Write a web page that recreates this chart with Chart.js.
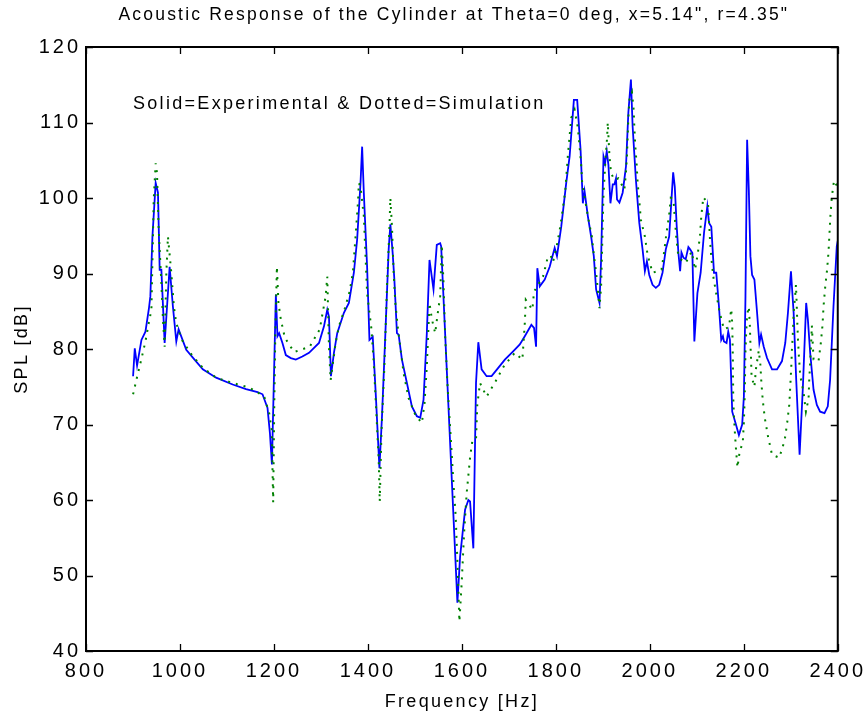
<!DOCTYPE html>
<html>
<head>
<meta charset="utf-8">
<script src="https://cdn.jsdelivr.net/npm/chart.js@4.4.1/dist/chart.umd.min.js"></script>
<style>
  html, body { margin: 0; padding: 0; background: #fff; }
  #grafico { display: block; }
</style>
</head>
<body>
<canvas id="grafico" width="868" height="716"></canvas>
<script>
// experimental (solid blue)
const freqExp = [900.2, 903.8, 908.7, 918.0, 926.5, 934.0, 937.0, 941.4, 948.3, 953.2, 956.8, 960.4, 967.4, 978.0, 985.0, 992.2, 997.1,
  1013.4, 1031.0, 1048.6, 1077.0, 1112.2, 1140.6, 1165.1, 1175.7, 1186.3, 1191.4, 1195.7, 1204.1, 1207.5, 1211.1, 1218.1, 1225.3,
  1235.9, 1246.5, 1260.5, 1274.7, 1295.9, 1306.5, 1313.5, 1317.1, 1321.3, 1327.7, 1334.7, 1348.9, 1359.5, 1370.1, 1377.1, 1384.3,
  1387.7, 1391.3, 1398.3, 1403.3, 1410.3, 1417.3, 1424.5, 1430.0, 1437.2, 1444.2, 1447.8, 1452.7, 1456.3, 1461.8, 1465.4, 1472.4,
  1483.0, 1493.6, 1504.2, 1511.4, 1518.4, 1525.4, 1531.1, 1539.6, 1546.6, 1553.8, 1555.9, 1590.5, 1596.2, 1606.8, 1613.8, 1617.4,
  1624.4, 1630.1, 1635.0, 1642.0, 1652.6, 1663.2, 1677.4, 1691.5, 1709.1, 1723.3, 1733.9, 1747.9, 1753.6, 1757.9, 1760.6, 1765.7,
  1776.3, 1786.9, 1797.5, 1802.4, 1811.5, 1822.1, 1829.3, 1838.4, 1845.4, 1852.6, 1857.5, 1861.1, 1868.1, 1875.1, 1880.8, 1885.7,
  1892.9, 1896.3, 1901.4, 1904.8, 1908.3, 1911.9, 1916.2, 1921.1, 1924.6, 1928.0, 1930.2, 1935.3, 1942.2, 1949.3, 1954.3, 1959.8,
  1963.4, 1970.4, 1977.6, 1984.6, 1989.5, 1993.8, 1998.8, 2005.8, 2012.8, 2020.0, 2027.0, 2034.0, 2041.2, 2046.1, 2049.7, 2053.1,
  2057.3, 2060.9, 2064.5, 2067.3, 2071.5, 2076.4, 2082.1, 2085.7, 2090.6, 2094.8, 2101.3, 2108.2, 2115.4, 2122.4, 2126.0, 2130.9,
  2136.6, 2141.4, 2147.2, 2152.0, 2155.6, 2157.8, 2163.3, 2166.9, 2170.5, 2175.4, 2182.4, 2189.6, 2196.6, 2200.2, 2203.6, 2207.1,
  2210.7, 2214.1, 2217.7, 2222.6, 2228.3, 2233.2, 2236.8, 2242.5, 2249.5, 2260.1, 2270.7, 2281.3, 2288.3, 2294.0, 2300.4, 2306.1,
  2311.6, 2318.8, 2325.8, 2332.8, 2336.4, 2341.3, 2348.5, 2355.5, 2362.5, 2371.8, 2378.8, 2383.7, 2390.9, 2397.9, 2400.0];
const splExp = [76.4, 80.1, 77.8, 81.2, 82.3, 85.4, 87.0, 94.9, 102.0, 100.7, 90.5, 90.5, 80.8, 90.9, 85.6, 81.0, 82.6,
  79.9, 78.6, 77.3, 76.2, 75.3, 74.7, 74.3, 74.0, 72.2, 68.9, 64.7, 87.2, 81.7, 82.1, 80.8, 79.2,
  78.8, 78.6, 79.0, 79.5, 80.8, 83.0, 85.2, 84.3, 76.4, 79.5, 82.1, 84.8, 86.1, 90.1, 94.5, 102.0,
  106.8, 100.7, 90.9, 81.2, 81.6, 73.3, 64.2, 71.1, 82.1, 93.2, 96.5, 92.7, 89.2, 82.1, 81.9, 78.6,
  75.5, 72.4, 71.1, 70.9, 73.3, 82.1, 91.8, 87.9, 93.8, 94.0, 93.6, 46.4, 52.5, 58.7, 60.0, 59.8,
  53.6, 75.5, 80.9, 77.3, 76.4, 76.4, 77.5, 78.6, 79.7, 80.6, 81.7, 83.2, 82.8, 80.3, 90.7, 88.3,
  89.2, 90.9, 93.4, 92.3, 96.2, 102.0, 105.5, 113.0, 113.0, 106.4, 99.3, 100.9, 97.6, 94.9, 92.3, 87.9,
  86.1, 91.8, 105.5, 104.6, 106.2, 104.4, 99.3, 101.8, 101.8, 102.6, 99.8, 99.4, 100.7, 104.2, 111.3, 115.7,
  109.5, 102.4, 96.7, 93.2, 90.3, 91.6, 89.8, 88.5, 88.1, 88.5, 90.1, 93.2, 94.9, 99.8, 103.4, 101.5,
  96.2, 92.7, 90.3, 92.8, 92.1, 91.9, 93.5, 93.2, 92.7, 81.0, 87.4, 90.1, 95.4, 98.9, 96.7, 96.2,
  90.1, 90.1, 85.6, 81.2, 81.7, 81.0, 80.8, 82.3, 81.2, 71.7, 70.2, 68.6, 70.0, 73.7, 87.0, 107.7,
  101.1, 92.3, 89.8, 89.2, 84.8, 80.8, 81.9, 80.3, 78.8, 77.3, 77.3, 78.4, 80.8, 84.8, 90.3, 84.8,
  75.9, 66.0, 75.0, 86.1, 83.9, 79.5, 74.6, 72.6, 71.7, 71.5, 72.4, 75.9, 85.6, 93.6, 94.3];

// simulation (dotted green)
const freqSim = [900.2, 908.7, 918.0, 926.5, 933.5, 939.2, 944.1, 948.3, 951.1, 954.7, 960.4, 963.8, 967.4, 971.0, 974.4, 981.6,
  987.1, 992.2, 1004.1, 1025.3, 1048.6, 1077.0, 1112.2, 1147.5, 1179.3, 1189.9, 1195.7, 1196.9, 1198.4, 1200.5, 1202.7, 1206.3,
  1209.6, 1214.7, 1223.2, 1242.9, 1276.2, 1297.4, 1310.1, 1313.5, 1317.1, 1320.7, 1331.3, 1338.3, 1351.0, 1361.0, 1368.0, 1373.7,
  1379.2, 1380.7, 1384.3, 1391.3, 1398.3, 1407.6, 1412.5, 1417.3, 1423.0, 1425.2, 1428.8, 1435.1, 1440.6, 1445.7, 1447.8, 1451.2,
  1454.8, 1458.4, 1464.0, 1476.0, 1486.6, 1500.8, 1514.8, 1520.5, 1525.4, 1531.1, 1536.0, 1543.2, 1548.1, 1553.8, 1557.2, 1560.8,
  1564.4, 1569.9, 1577.1, 1582.0, 1586.9, 1591.1, 1594.7, 1599.6, 1604.7, 1610.2, 1617.4, 1622.2, 1630.1, 1632.8, 1638.6, 1652.6,
  1671.6, 1690.1, 1712.7, 1728.8, 1733.9, 1736.0, 1750.0, 1753.6, 1772.7, 1781.8, 1789.0, 1793.9, 1802.4, 1809.4, 1815.1, 1820.0,
  1825.7, 1832.7, 1839.9, 1846.9, 1850.5, 1853.9, 1856.0, 1869.6, 1876.6, 1880.8, 1885.7, 1889.3, 1892.9, 1896.3, 1898.4, 1901.4,
  1905.6, 1909.0, 1910.5, 1914.1, 1917.5, 1924.6, 1933.1, 1945.8, 1949.2, 1951.4, 1952.9, 1954.3, 1956.5, 1962.0, 1965.6, 1967.1,
  1969.2, 1972.0, 1974.1, 1977.6, 1981.0, 1989.5, 1995.2, 2005.8, 2024.9, 2030.6, 2035.5, 2041.2, 2044.6, 2050.3, 2053.1, 2056.1,
  2060.3, 2067.3, 2076.4, 2089.1, 2096.3, 2102.7, 2106.9, 2109.7, 2113.9, 2123.9, 2128.1, 2130.9, 2135.1, 2141.4, 2148.5, 2157.8,
  2168.4, 2173.3, 2175.4, 2176.8, 2177.5, 2178.9, 2181.1, 2183.8, 2186.6, 2190.7, 2197.9, 2200.0, 2201.4, 2202.3, 2202.9, 2203.6,
  2205.1, 2207.2, 2210.8, 2212.9, 2214.1, 2215.6, 2216.5, 2222.6, 2226.2, 2231.9, 2235.3, 2237.4, 2240.4, 2244.6, 2251.6, 2260.1,
  2275.6, 2287.0, 2292.5, 2296.8, 2298.9, 2301.0, 2302.5, 2304.6, 2306.1, 2309.5, 2311.0, 2312.5, 2313.8, 2315.3, 2317.4, 2320.1,
  2327.3, 2332.2, 2337.9, 2339.2, 2341.3, 2343.4, 2344.9, 2348.5, 2359.1, 2364.0, 2367.6, 2369.7, 2373.1, 2377.3, 2380.3, 2382.4,
  2384.5, 2387.3, 2392.1, 2399.3];
const splSim = [74.0, 76.3, 78.7, 81.0, 83.4, 85.2, 99.8, 104.6, 103.3, 95.8, 88.7, 83.9, 80.3, 90.1, 94.9, 90.1,
  85.6, 83.4, 81.2, 79.2, 77.5, 76.2, 75.5, 74.9, 73.7, 71.5, 69.1, 64.2, 59.7, 71.6, 81.2, 90.9,
  86.1, 83.9, 81.5, 79.6, 80.3, 82.6, 87.0, 89.6, 80.3, 75.9, 80.8, 83.0, 85.4, 87.6, 90.1, 94.9,
  99.8, 102.0, 101.5, 97.6, 87.4, 82.6, 78.1, 72.4, 65.3, 59.8, 68.9, 77.7, 88.3, 95.8, 100.0, 96.2,
  90.1, 86.1, 82.6, 76.8, 73.5, 71.3, 70.2, 72.8, 77.7, 86.1, 84.0, 82.1, 84.5, 87.0, 93.8, 89.0,
  81.7, 74.6, 67.5, 62.3, 57.8, 50.8, 43.9, 49.0, 55.6, 60.9, 65.6, 67.8, 68.0, 72.6, 75.5, 73.7,
  75.7, 77.8, 79.5, 78.6, 83.4, 86.5, 85.2, 87.6, 89.6, 91.9, 92.4, 91.5, 93.8, 96.2, 98.7, 100.9,
  105.7, 110.6, 111.7, 109.3, 106.8, 104.4, 102.0, 97.1, 94.9, 92.5, 90.1, 87.9, 85.4, 88.3, 93.2, 100.4,
  105.1, 107.9, 110.0, 105.5, 103.3, 102.4, 102.6, 101.1, 103.3, 105.7, 108.2, 110.6, 113.0, 114.0, 111.7, 109.3,
  106.8, 104.4, 102.0, 99.6, 97.1, 94.9, 92.5, 90.1, 90.5, 92.9, 95.4, 97.8, 100.0, 99.8, 97.4, 94.9,
  92.5, 91.8, 91.4, 92.9, 90.5, 92.9, 95.1, 97.7, 100.1, 99.3, 94.5, 92.1, 89.6, 87.3, 84.9, 82.6,
  82.9, 85.3, 83.4, 78.6, 73.7, 71.3, 68.9, 66.4, 64.3, 66.2, 67.7, 70.1, 72.5, 74.9, 77.4, 79.8,
  82.2, 84.6, 85.6, 83.1, 80.7, 78.4, 76.4, 75.0, 77.5, 79.8, 77.9, 75.6, 73.2, 70.9, 68.4, 66.0,
  65.6, 67.9, 70.3, 72.6, 75.0, 77.5, 79.9, 82.3, 84.8, 87.2, 88.5, 86.1, 83.7, 81.3, 78.9, 76.5,
  74.2, 71.7, 73.4, 75.8, 78.2, 80.8, 83.1, 78.6, 78.4, 80.8, 83.2, 85.6, 88.1, 90.5, 92.8, 95.3,
  97.7, 100.1, 102.3, 101.5];

const freqTicks = [800, 1000, 1200, 1400, 1600, 1800, 2000, 2200, 2400];
const splTicks = [40, 50, 60, 70, 80, 90, 100, 110, 120];

const tituloGrafico = 'Acoustic Response of the Cylinder at Theta=0 deg, x=5.14", r=4.35"';
const textoNota = "Solid=Experimental & Dotted=Simulation";
const tituloX = "Frequency [Hz]";
const tituloY = "SPL [dB]";

const fuente = "'Liberation Sans', Arial, sans-serif";
const canvas_grafico = document.getElementById("grafico");

/* marco, ticks hacia dentro y textos */
const marcoPlugin = {
  id: "marco",
  beforeDraw(chart) {
    // espaciado de letras para las etiquetas de los ejes
    chart.ctx.letterSpacing = "3px";
  },
  afterDraw(chart) {
    const ctx = chart.ctx;
    const a = chart.chartArea;
    const xs = chart.scales.x;
    const ys = chart.scales.y;
    ctx.save();
    ctx.strokeStyle = "#000";
    ctx.lineWidth = 2;
    ctx.strokeRect(a.left, a.top, a.right - a.left, a.bottom - a.top);
    ctx.lineWidth = 1.3;
    ctx.beginPath();
    freqTicks.forEach((v) => {
      const px = Math.round(xs.getPixelForValue(v)) + 0.5;
      ctx.moveTo(px, a.bottom); ctx.lineTo(px, a.bottom - 7);
      ctx.moveTo(px, a.top); ctx.lineTo(px, a.top + 7);
    });
    splTicks.forEach((v) => {
      const py = Math.round(ys.getPixelForValue(v)) + 0.5;
      ctx.moveTo(a.left, py); ctx.lineTo(a.left + 7, py);
      ctx.moveTo(a.right, py); ctx.lineTo(a.right - 7, py);
    });
    ctx.stroke();

    ctx.fillStyle = "#000";
    ctx.textAlign = "center";
    ctx.textBaseline = "middle";
    const cx = (a.left + a.right) / 2;
    ctx.letterSpacing = "2.2px";
    ctx.font = "17.5px " + fuente;
    ctx.fillText(tituloGrafico, cx - 8, 15);
    ctx.letterSpacing = "2.3px";
    ctx.font = "18px " + fuente;
    ctx.fillText(tituloX, cx, 702);
    ctx.save();
    ctx.translate(22, (a.top + a.bottom) / 2);
    ctx.rotate(-Math.PI / 2);
    ctx.fillText(tituloY, 0, 0);
    ctx.restore();
    ctx.textAlign = "left";
    ctx.fillText(textoNota, xs.getPixelForValue(900), ys.getPixelForValue(112.5));
    ctx.restore();
  }
};

const config = {
  type: "line",
  data: {
    datasets: [
      {
        label: "Simulation",
        data: freqSim.map((f, i) => ({ x: f, y: splSim[i] })),
        borderColor: "#008000",
        borderWidth: 2,
        borderDash: [2, 6],
        pointRadius: 0,
        tension: 0,
        fill: false
      },
      {
        label: "Experimental",
        data: freqExp.map((f, i) => ({ x: f, y: splExp[i] })),
        borderColor: "#0000ff",
        borderWidth: 1.8,
        pointRadius: 0,
        tension: 0,
        fill: false
      }
    ]
  },
  options: {
    responsive: false,
    animation: false,
    devicePixelRatio: 1,
    layout: { padding: { top: 47, right: 27, left: 0, bottom: 0 } },
    plugins: { legend: { display: false }, tooltip: { enabled: false } },
    scales: {
      x: {
        type: "linear",
        min: freqTicks[0],
        max: freqTicks[freqTicks.length - 1],
        afterBuildTicks: (s) => { s.ticks = freqTicks.map((v) => ({ value: v })); },
        afterFit: (s) => { s.height = 65; },
        grid: { display: false, drawTicks: false },
        border: { display: false },
        ticks: { padding: 8, color: "#000", maxRotation: 0, autoSkip: false,
          callback: (v) => String(v), font: { family: fuente, size: 20 } }
      },
      y: {
        type: "linear",
        min: splTicks[0],
        max: splTicks[splTicks.length - 1],
        afterBuildTicks: (s) => { s.ticks = splTicks.map((v) => ({ value: v })); },
        afterFit: (s) => { s.width = 86; },
        grid: { display: false, drawTicks: false },
        border: { display: false },
        ticks: { padding: 5, color: "#000", autoSkip: false,
          callback: (v) => String(v), font: { family: fuente, size: 20 } }
      }
    }
  },
  plugins: [marcoPlugin]
};

new Chart(canvas_grafico, config);
</script>
</body>
</html>
